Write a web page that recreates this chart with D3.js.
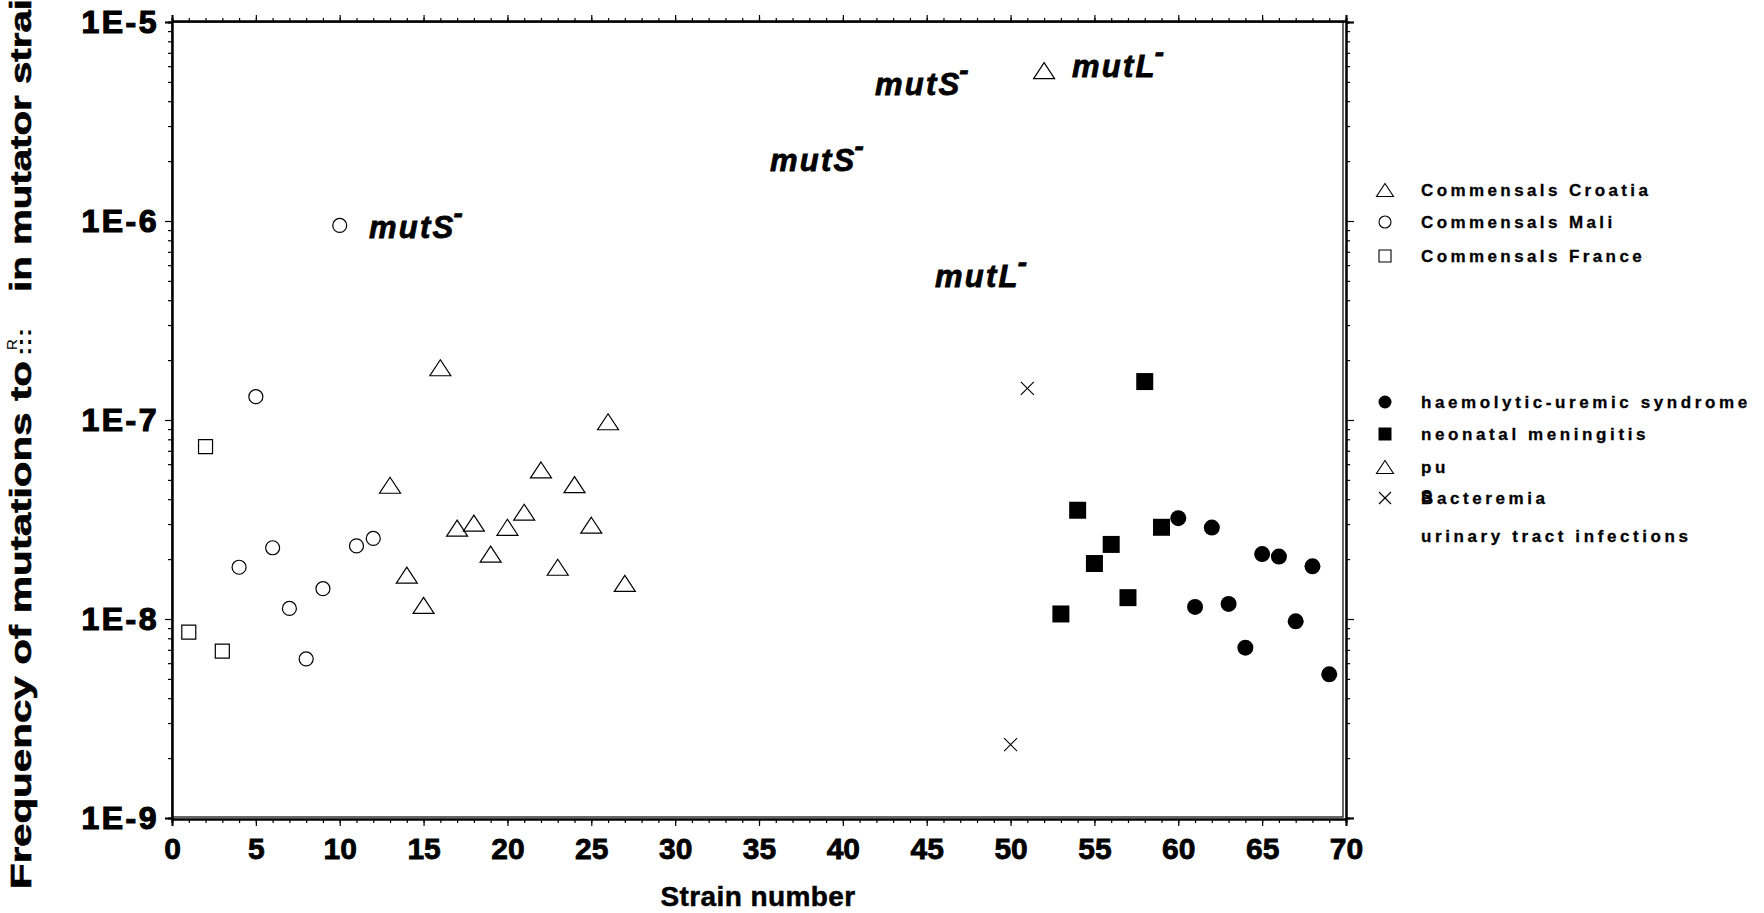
<!DOCTYPE html>
<html>
<head>
<meta charset="utf-8">
<script src="https://cdn.jsdelivr.net/npm/d3@7"></script>
<style>
  body { margin: 0; background: #fff; }
  svg { display: block; font-family: "Liberation Sans", Arial, sans-serif; }
</style>
</head>
<body>
<svg id="svg" width="1764" height="913"></svg>
<script>
// data: strain number / mutation frequency
const franceX = [1, 2, 3];
const franceY = [8.6e-9, 7.35e-8, 6.9e-9];
const maliX = [4, 5, 6, 7, 8, 9, 10, 11, 12];
const maliY = [1.82e-8, 1.31e-7, 2.28e-8, 1.13e-8, 6.3e-9, 1.42e-8, 9.5e-7, 2.33e-8, 2.54e-8];
const croatiaX = [13, 14, 15, 16, 17, 18, 19, 20, 21, 22, 23, 24, 25, 26, 27];
const croatiaY = [4.7e-8, 1.66e-8, 1.17e-8, 1.83e-7, 2.86e-8, 3.03e-8, 2.12e-8, 2.89e-8, 3.44e-8, 5.61e-8, 1.82e-8, 4.73e-8, 2.96e-8, 9.8e-8, 1.51e-8];
const bactX = [50, 51];
const bactY = [2.34e-9, 1.44e-7];
const puX = [52];
const puY = [5.7e-6];
const meningX = [53, 54, 55, 56, 57, 58, 59];
const meningY = [1.06e-8, 3.52e-8, 1.9e-8, 2.37e-8, 1.28e-8, 1.56e-7, 2.89e-8];
const husX = [60, 61, 62, 63, 64, 65, 66, 67, 68, 69];
const husY = [3.21e-8, 1.15e-8, 2.88e-8, 1.19e-8, 7.18e-9, 2.12e-8, 2.06e-8, 9.73e-9, 1.84e-8, 5.27e-9];

const xTicks = [0, 5, 10, 15, 20, 25, 30, 35, 40, 45, 50, 55, 60, 65, 70];
const yTicks = [1e-9, 1e-8, 1e-7, 1e-6, 1e-5];
const yTickLabels = ["1E-9", "1E-8", "1E-7", "1E-6", "1E-5"];

const annotLabels = ["mutS", "mutS", "mutS", "mutL", "mutL"];
const annotX = [11.75, 35.66, 41.92, 53.67, 45.5];
const annotY = [8.2e-7, 1.78e-6, 4.3e-6, 5.3e-6, 4.66e-7];

const legendTop = ["Commensals Croatia", "Commensals Mali", "Commensals France"];
const legendBottom = ["haemolytic-uremic syndrome", "neonatal meningitis", "pu", "Bacteremia", "urinary tract infections"];

const svg = d3.select("#svg");

const x = d3.scaleLinear().domain([0, 70]).range([172, 1346]);
const y = d3.scaleLog().domain([1e-9, 1e-5]).range([818, 22]);

const minorY = [];
for (let e = -9; e < -5; e++) for (let k = 2; k <= 9; k++) minorY.push(k * Math.pow(10, e));
const minorX = d3.range(0, 71);

// frame
svg.append("rect")
	.attr("x", 172).attr("y", 22)
	.attr("width", 1171).attr("height", 795)
	.attr("fill", "none").attr("stroke", "#000").attr("stroke-width", 1.2);

function styleAxis(g) {
	g.select(".domain").attr("stroke", "#000").attr("stroke-width", 2);
	g.selectAll(".tick line").attr("stroke", "#000").attr("stroke-width", 1.2);
}

// heavier text, the scan looks close to Arial Black
function heavy(sel, w) {
	sel.attr("stroke", "#000").attr("stroke-width", w).attr("paint-order", "stroke");
}

// minor ticks
svg.append("g").attr("transform", "translate(0,819)")
	.call(d3.axisBottom(x).tickValues(minorX).tickSize(4).tickFormat(""))
	.call(styleAxis);
svg.append("g").attr("transform", "translate(0,21)")
	.call(d3.axisTop(x).tickValues(minorX).tickSize(3).tickFormat(""))
	.call(styleAxis);
svg.append("g").attr("transform", "translate(172,0)")
	.call(d3.axisLeft(y).tickValues(minorY).tickSize(4).tickFormat(""))
	.call(styleAxis);
svg.append("g").attr("transform", "translate(1346,0)")
	.call(d3.axisRight(y).tickValues(minorY).tickSize(4).tickFormat(""))
	.call(styleAxis);

// major ticks
const xb = svg.append("g").attr("transform", "translate(0,819)")
	.call(d3.axisBottom(x).tickValues(xTicks).tickSize(7).tickPadding(12).tickFormat(d3.format("d")))
	.call(styleAxis);
xb.selectAll("text")
	.attr("font-size", 30).attr("font-weight", "bold").attr("fill", "#000")
	.attr("font-family", "Liberation Sans, Arial, sans-serif")
	.call(heavy, 0.8);

svg.append("g").attr("transform", "translate(0,21)")
	.call(d3.axisTop(x).tickValues(xTicks).tickSize(6).tickFormat(""))
	.call(styleAxis);

const yl = svg.append("g").attr("transform", "translate(172,0)")
	.call(d3.axisLeft(y).tickValues(yTicks).tickSize(7).tickPadding(6).tickFormat((d, i) => yTickLabels[i]))
	.call(styleAxis);
yl.selectAll("text")
	.attr("font-size", 32).attr("font-weight", "bold").attr("fill", "#000")
	.attr("letter-spacing", 2.5)
	.attr("font-family", "Liberation Sans, Arial, sans-serif")
	.call(heavy, 1.2);

svg.append("g").attr("transform", "translate(1346,0)")
	.call(d3.axisRight(y).tickValues(yTicks).tickSize(8).tickFormat(""))
	.call(styleAxis);

// axis titles
svg.append("text")
	.attr("x", 758).attr("y", 906)
	.attr("text-anchor", "middle")
	.attr("font-size", 28).attr("font-weight", "bold")
	.attr("letter-spacing", 0.4)
	.call(heavy, 0.5)
	.text("Strain number");

const yt = svg.append("g").attr("transform", "translate(31,0) rotate(-90)");
yt.append("text")
	.attr("x", -889).attr("y", 0)
	.attr("font-size", 29).attr("font-weight", "bold")
	.attr("textLength", 528).attr("lengthAdjust", "spacingAndGlyphs")
	.call(heavy, 0.6)
	.text("Frequency of mutations to");
yt.append("text")
	.attr("x", -350).attr("y", -14)
	.attr("font-size", 15)
	.text("R");
yt.append("text")
	.attr("x", -356).attr("y", 0)
	.attr("font-size", 20).attr("font-weight", "bold")
	.attr("textLength", 28).attr("lengthAdjust", "spacingAndGlyphs")
	.text(":::");
yt.append("text")
	.attr("x", -292).attr("y", 0)
	.attr("font-size", 29).attr("font-weight", "bold")
	.attr("textLength", 293).attr("lengthAdjust", "spacingAndGlyphs")
	.call(heavy, 0.6)
	.text("in mutator strai");

// markers
const tri = (w, h) => `M0,${-h / 2}L${w / 2},${h / 2}L${-w / 2},${h / 2}Z`;
const sq = (s) => `M${-s / 2},${-s / 2}h${s}v${s}h${-s}Z`;
const cross = (s) => `M${-s / 2},${-s / 2}L${s / 2},${s / 2}M${s / 2},${-s / 2}L${-s / 2},${s / 2}`;
const circ = (r) => d3.symbol(d3.symbolCircle, Math.PI * r * r)();

function plot(xs, ys, path, fill, sw) {
	svg.append("g")
		.selectAll("path")
		.data(xs.map((d, i) => ({ x: d, y: ys[i] })))
		.join("path")
		.attr("transform", (d) => `translate(${x(d.x)},${y(d.y)})`)
		.attr("d", path)
		.attr("fill", fill)
		.attr("stroke", "#000")
		.attr("stroke-width", sw);
}

plot(franceX, franceY, sq(14), "none", 1.2);
plot(maliX, maliY, circ(7), "none", 1.2);
plot(croatiaX, croatiaY, tri(21, 16), "none", 1.2);
plot(puX, puY, tri(21, 16), "none", 1.2);
plot(bactX, bactY, cross(13), "none", 1.1);
plot(meningX, meningY, sq(17), "#000", 0);
plot(husX, husY, circ(8), "#000", 0);

// mutator annotations
annotLabels.forEach((t, i) => {
	const tx = svg.append("text")
		.attr("x", x(annotX[i])).attr("y", y(annotY[i]))
		.attr("font-size", 31).attr("font-weight", "bold").attr("font-style", "italic")
		.attr("letter-spacing", 2.2)
		.call(heavy, 0.8);
	tx.append("tspan").text(t);
	tx.append("tspan").attr("dy", -15).attr("dx", -2).attr("font-size", 28).text("-");
});

// legend
const legTopY = [190, 222, 256];
const legTopSym = [tri(17, 13), circ(6), sq(12)];
legendTop.forEach((t, i) => {
	svg.append("path")
		.attr("transform", `translate(1385,${legTopY[i]})`)
		.attr("d", legTopSym[i]).attr("fill", "none").attr("stroke", "#000").attr("stroke-width", 1.1);
	svg.append("text")
		.attr("x", 1421).attr("y", legTopY[i] + 6)
		.attr("font-size", 17).attr("font-weight", "bold").attr("letter-spacing", 3.4)
		.call(heavy, 0.3)
		.text(t);
});

const legBotY = [402, 434, 467, 498, 536];
const legBotSym = [circ(6.5), sq(13), tri(17, 13), cross(12), null];
const legBotFill = ["#000", "#000", "none", "none", "none"];
legendBottom.forEach((t, i) => {
	if (legBotSym[i]) {
		svg.append("path")
			.attr("transform", `translate(1385,${legBotY[i]})`)
			.attr("d", legBotSym[i]).attr("fill", legBotFill[i])
			.attr("stroke", legBotFill[i] === "#000" ? "none" : "#000").attr("stroke-width", 1.1);
	}
	svg.append("text")
		.attr("x", 1421).attr("y", legBotY[i] + 6)
		.attr("font-size", 17).attr("font-weight", "bold").attr("letter-spacing", 3.6)
		.call(heavy, 0.3)
		.text(t);
});
// stray "S" of "pus" that wrapped onto the Bacteremia line
svg.append("text")
	.attr("x", 1421).attr("y", legBotY[3] + 4)
	.attr("font-size", 17).attr("font-weight", "bold")
	.text("S");
</script>
</body>
</html>
